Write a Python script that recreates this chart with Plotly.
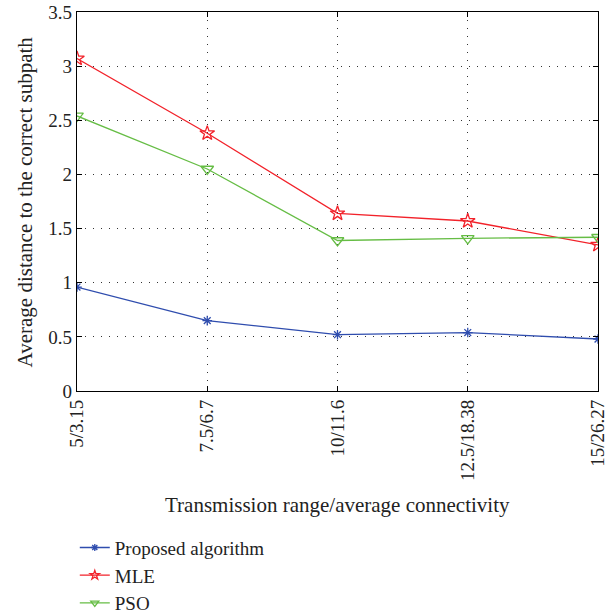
import plotly.graph_objects as go

categories = ["5/3.15", "7.5/6.7", "10/11.6", "12.5/18.38", "15/26.27"]
proposed = [0.96, 0.65, 0.52, 0.54, 0.48]
mle = [3.07, 2.38, 1.64, 1.57, 1.35]
pso = [2.54, 2.05, 1.39, 1.41, 1.42]
y_ticks = [0, 0.5, 1, 1.5, 2, 2.5, 3, 3.5]

xpos = list(range(len(categories)))
FONT = "Liberation Serif"
TXT = "#222222"

series = [
    ("Proposed algorithm", proposed, "#2F4DAE", "asterisk-open", 8, 6),
    ("MLE", mle, "#F2222A", "star-open", 11, 7),
    ("PSO", pso, "#66BD45", "triangle-down-open", 11, 7),
]

fig = go.Figure()
for name, vals, col, sym, msize, lsize in series:
    fig.add_trace(go.Scatter(x=xpos, y=vals, name=name, mode="lines+markers",
                             line=dict(color=col, width=1.3),
                             marker=dict(symbol=sym, size=msize, color=col,
                                         line=dict(width=1.3, color=col)),
                             showlegend=False))
# legend-only entries (placed outside the axis range, clipped away) with smaller symbols
for name, vals, col, sym, msize, lsize in series:
    fig.add_trace(go.Scatter(x=[-5], y=[-5], name=name, mode="lines+markers",
                             line=dict(color=col, width=1.3),
                             marker=dict(symbol=sym, size=lsize, color=col,
                                         line=dict(width=1.3, color=col)),
                             cliponaxis=True, hoverinfo="skip",
                             showlegend=True))

fig.update_layout(
    width=613, height=614,
    margin=dict(l=77, r=15, t=12, b=223, autoexpand=False),
    paper_bgcolor="white", plot_bgcolor="white",
    font=dict(family=FONT, size=19, color=TXT),
    showlegend=True,
    legend=dict(xref="container", yref="container", x=0.122, y=0.139,
                xanchor="left", yanchor="top", bgcolor="rgba(0,0,0,0)",
                font=dict(family=FONT, size=19, color=TXT),
                tracegroupgap=0, itemwidth=30),
    xaxis=dict(range=[0, 4], tickmode="array", tickvals=xpos, ticktext=categories,
               tickangle=-90, showline=True, linecolor="black", linewidth=1.2,
               mirror="ticks", ticks="inside", ticklen=5, tickcolor="black",
               showgrid=True, gridcolor="#333333", griddash="1px,7px", gridwidth=1,
               zeroline=False, tickfont=dict(family=FONT, size=19, color=TXT)),
    yaxis=dict(range=[0, 3.5], tickmode="array", tickvals=y_ticks,
               ticktext=[f"{v:g}" for v in y_ticks],
               showline=True, linecolor="black", linewidth=1.2,
               mirror="ticks", ticks="inside", ticklen=5, tickcolor="black",
               showgrid=True, gridcolor="#333333", griddash="1px,7px", gridwidth=1,
               zeroline=False, tickfont=dict(family=FONT, size=19, color=TXT)),
    annotations=[
        dict(text="Transmission range/average connectivity", xref="paper", yref="paper",
             x=0.5, y=-0.30, xanchor="center", yanchor="middle", showarrow=False,
             font=dict(family=FONT, size=21, color=TXT)),
        dict(text="Average distance to the correct subpath", xref="paper", yref="paper",
             x=-0.10, y=0.5, xanchor="center", yanchor="middle", showarrow=False,
             textangle=-90, font=dict(family=FONT, size=21, color=TXT)),
    ],
)

fig.write_html("out.html")
